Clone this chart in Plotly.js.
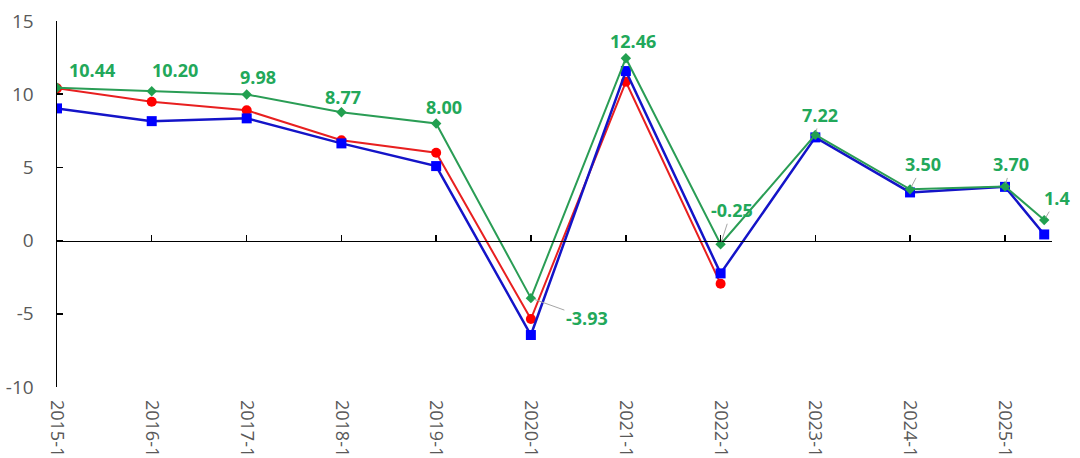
<!DOCTYPE html>
<html>
<head>
<meta charset="utf-8">
<script src="https://cdn.plot.ly/plotly-3.0.1.min.js"></script>
<style>html,body{margin:0;padding:0;background:#fff;}#chart{width:1080px;height:458px;}</style>
</head>
<body>
<div id="chart"></div>
<script>
// Data
const dates = ["2015-01-01","2016-01-01","2017-01-01","2018-01-01","2019-01-01","2020-01-01","2021-01-01","2022-01-01","2023-01-01","2024-01-01","2025-01-01","2025-06-01"];
const tickDates = ["2015-01-01","2016-01-01","2017-01-01","2018-01-01","2019-01-01","2020-01-01","2021-01-01","2022-01-01","2023-01-01","2024-01-01","2025-01-01"];
const tickLabels = ["2015-1","2016-1","2017-1","2018-1","2019-1","2020-1","2021-1","2022-1","2023-1","2024-1","2025-1"];
const yTickVals = [-10, -5, 0, 5, 10, 15];
const yTickText = ["-10", "-5", "0", "5", "10", "15"];
const redValues = [10.40, 9.48, 8.90, 6.86, 6.00, -5.36, 10.85, -2.95, null, null, null, null];
const blueValues = [9.03, 8.16, 8.35, 6.64, 5.09, -6.45, 11.58, -2.24, 7.05, 3.29, 3.67, 0.42];
const greenValues = [10.44, 10.20, 9.98, 8.77, 8.00, -3.93, 12.46, -0.25, 7.22, 3.50, 3.70, 1.4];
const greenLabels = ["10.44","10.20","9.98","8.77","8.00","-3.93","12.46","-0.25","7.22","3.50","3.70","1.4"];

// label placement (pixel offsets from point, styling only)
const labelOffsets = [[35,-18,false],[23,-21,false],[11,-17,false],[2,-15,false],[8,-16,false],[56,20,true],[7,-17,false],[11,-34,true],[5,-20,true],[13,-25,true],[6,-22,true],[13,-22,true]];

const GREEN = "#22a85a";
const traces = [
  {x: dates, y: greenValues, type: "scatter", mode: "lines+markers", name: "green",
   line: {color: "#2a9d55", width: 2}, marker: {symbol: "diamond", size: 8, color: "#22a050"}, xaxis: "x2", yaxis: "y"},
  {x: dates, y: redValues, type: "scatter", mode: "lines+markers", name: "red", connectgaps: false,
   line: {color: "#e82020", width: 2}, marker: {symbol: "circle", size: 10, color: "#ff0000"}, xaxis: "x", yaxis: "y"},
  {x: dates, y: blueValues, type: "scatter", mode: "lines+markers", name: "blue",
   line: {color: "#1414c8", width: 2.5}, marker: {symbol: "square", size: 10, color: "#0000ff"}, xaxis: "x", yaxis: "y"}
];

const annotations = greenValues.map((v, i) => ({
  x: dates[i], y: v, xref: "x", yref: "y",
  text: greenLabels[i],
  showarrow: true,
  arrowhead: 0, arrowwidth: 1,
  arrowcolor: labelOffsets[i][2] ? "#a6a6a6" : "rgba(0,0,0,0)",
  ax: labelOffsets[i][0], ay: labelOffsets[i][1],
  standoff: 3,
  font: {family: "Open Sans, sans-serif", size: 18, color: GREEN, weight: "bold"}
}));

const range = ["2015-01-01", "2025-07-01"];
const layout = {
  width: 1080, height: 458,
  margin: {l: 57, r: 28, t: 21, b: 71},
  paper_bgcolor: "#fff", plot_bgcolor: "#fff",
  showlegend: false,
  font: {family: "Open Sans, sans-serif", color: "#595959"},
  xaxis: {
    type: "date", range: range, anchor: "free", position: 0.4,
    showline: true, linecolor: "#000", linewidth: 1.5,
    ticks: "inside", ticklen: 6, tickcolor: "#000", tickwidth: 1.5,
    tickmode: "array", tickvals: tickDates, showticklabels: false,
    showgrid: false, zeroline: false
  },
  xaxis2: {
    type: "date", range: range, overlaying: "x", anchor: "y", side: "bottom",
    showline: false, ticks: "", showgrid: false, zeroline: false,
    tickmode: "array", tickvals: tickDates, ticktext: tickLabels,
    tickangle: 90, tickfont: {size: 18, color: "#595959"}, ticklabelstandoff: 12
  },
  yaxis: {
    range: [-10, 15], tickmode: "array", tickvals: yTickVals, ticktext: yTickText,
    showline: true, linecolor: "#000", linewidth: 1.5,
    ticks: "inside", ticklen: 6, tickcolor: "#000", tickwidth: 1.5,
    showgrid: false, zeroline: false,
    tickfont: {size: 19, color: "#595959"}, ticklabelstandoff: 18
  },
  annotations: annotations
};

Plotly.newPlot("chart", traces, layout, {staticPlot: true, displayModeBar: false});
</script>
</body>
</html>
